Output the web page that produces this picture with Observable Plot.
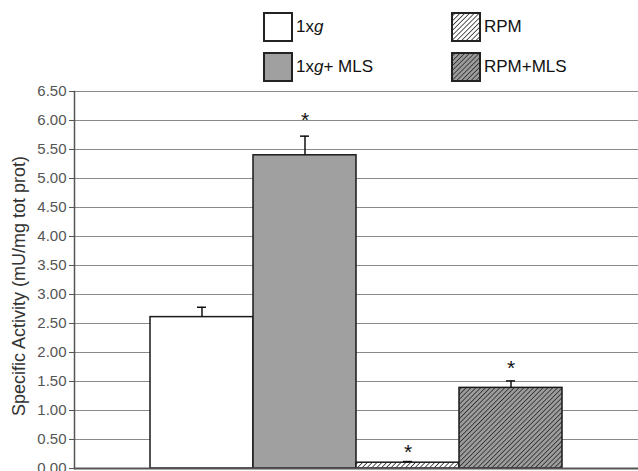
<!DOCTYPE html>
<html><head><meta charset="utf-8">
<script src="https://cdn.jsdelivr.net/npm/d3@7"></script>
<script src="https://cdn.jsdelivr.net/npm/@observablehq/plot@0.6"></script>
<style>
body{margin:0;background:#fff;font-family:Arial,"Liberation Sans",sans-serif;}
#legend{position:relative;width:638px;height:84px;}
.item{position:absolute;display:flex;align-items:center;font-size:17px;color:#111;height:30px;}
.item svg{margin-right:3px;display:block;}
#defs{position:absolute;width:0;height:0;}
</style></head><body>
<svg id="defs" width="0" height="0">
  <defs>
    <pattern id="hatchW" patternUnits="userSpaceOnUse" width="3.4" height="3.4" patternTransform="rotate(45)">
      <rect width="3.4" height="3.4" fill="#ffffff"></rect>
      <line x1="0" y1="0" x2="0" y2="3.4" stroke="#111" stroke-width="1.4"></line>
    </pattern>
    <pattern id="hatchG" patternUnits="userSpaceOnUse" width="3.4" height="3.4" patternTransform="rotate(45)">
      <rect width="3.4" height="3.4" fill="#9c9c9c"></rect>
      <line x1="0" y1="0" x2="0" y2="3.4" stroke="#111" stroke-width="1.3"></line>
    </pattern>
  </defs>
</svg>
<div id="legend"></div>
<div id="chart"></div>
<script>
const categories = ["1xg", "1xg+MLS", "RPM", "RPM+MLS"];
const legendLabels = ["1x<i>g</i>", "1x<i>g</i>+ MLS", "RPM", "RPM+MLS"];
const values = [2.61, 5.40, 0.10, 1.39];
const errors = [0.17, 0.33, 0.02, 0.12];
const starY = [null, 6.00, 0.28, 1.73];
const yTicks = [0, 0.5, 1, 1.5, 2, 2.5, 3, 3.5, 4, 4.5, 5, 5.5, 6, 6.5];
const yTitle = "Specific Activity (mU/mg tot prot)";
const fills = ["#ffffff", "#a0a0a0", "url(#hatchW)", "url(#hatchG)"];

// legend
const legendPos = [[263, 12], [263, 52], [451, 12], [451, 52]];
const legend = document.getElementById("legend");
categories.forEach((c, i) => {
  const div = document.createElement("div");
  div.className = "item";
  div.style.left = legendPos[i][0] + "px";
  div.style.top = legendPos[i][1] + "px";
  div.innerHTML = `<svg width="30" height="30"><rect x="1" y="1" width="28" height="28" fill="${fills[i]}" stroke="#222" stroke-width="2"></rect></svg><span>${legendLabels[i]}</span>`;
  legend.appendChild(div);
});

const data = categories.map((c, i) => ({cat: c, value: values[i], hi: values[i] + errors[i], star: starY[i]}));

const chart = Plot.plot({
  width: 638, height: 387,
  marginTop: 7, marginBottom: 3, marginLeft: 74, marginRight: 0,
  style: {fontFamily: "Arial, 'Liberation Sans', sans-serif", fontSize: "15px", color: "#333", background: "#fff", overflow: "visible"},
  x: {domain: categories, paddingInner: 0, paddingOuter: 0.735, axis: null},
  y: {domain: [0, 6.5], axis: null},
  color: {type: "ordinal", domain: categories, range: fills},
  marks: [
    Plot.ruleY(yTicks, {stroke: "#8a8a8a", strokeWidth: 1}),
    Plot.axisY({ticks: yTicks, tickFormat: d3.format(".2f"), tickSize: 5, tickPadding: 3, label: null, fontSize: 15, fill: "#555", stroke: "#555"}),
    Plot.barY(data, {x: "cat", y: "value", fill: "cat", stroke: "#1a1a1a", strokeWidth: 1.5}),
    Plot.ruleX(data, {x: "cat", y1: "value", y2: "hi", stroke: "#111", strokeWidth: 1.5}),
    Plot.tickY(data, {x: "cat", y: "hi", insetLeft: 47, insetRight: 47, stroke: "#111", strokeWidth: 1.5}),
    Plot.text(data.filter(d => d.star != null), {x: "cat", y: "star", text: () => "*", fontSize: 21, fill: "#111"}),
    Plot.ruleY([0], {stroke: "#555", strokeWidth: 2}),
    Plot.frame({anchor: "left", stroke: "#555", strokeWidth: 1.5}),
    Plot.text([yTitle], {frameAnchor: "left", rotate: -90, textAnchor: "middle", dx: -55, dy: 6, text: d => d, fontSize: 18, fill: "#333"})
  ]
});
document.getElementById("chart").appendChild(chart);
</script>
</body></html>
